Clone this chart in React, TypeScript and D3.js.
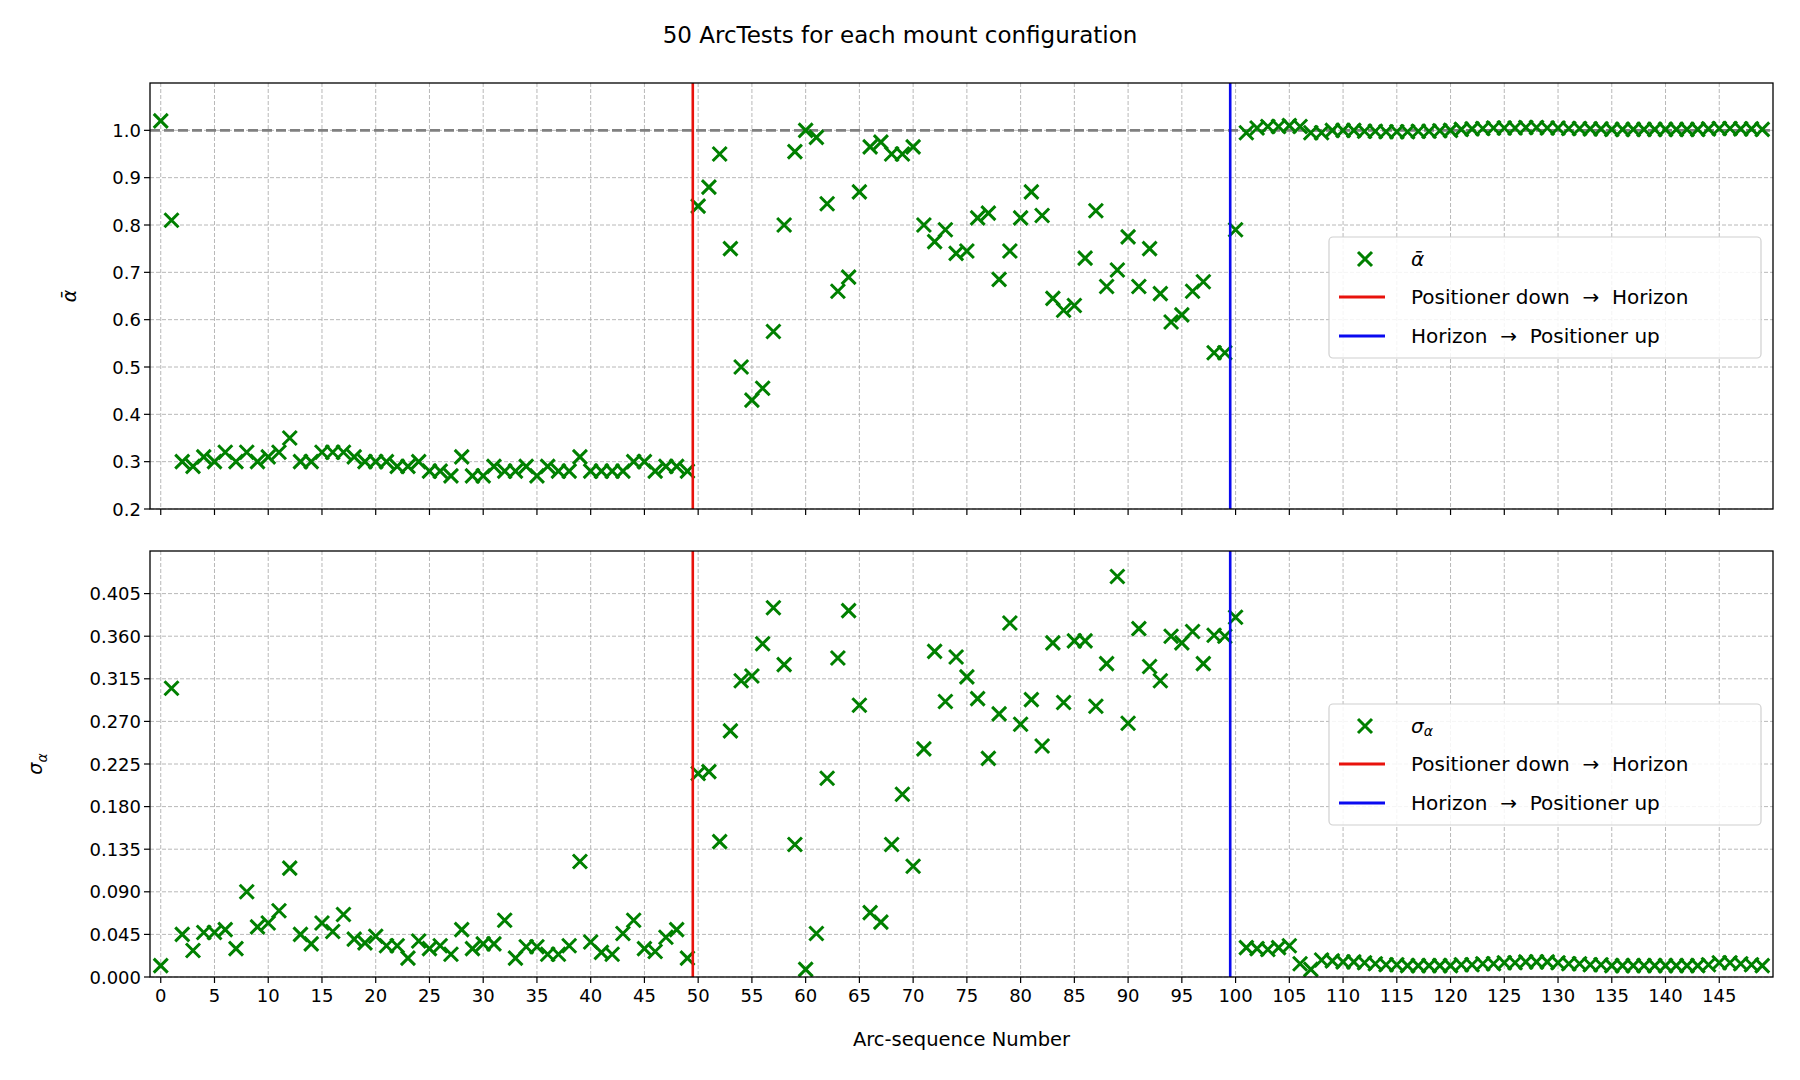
import * as d3 from "d3";

const alphaMean: number[] = [
  1.02, 0.81, 0.3, 0.29, 0.31, 0.3, 0.32, 0.3, 0.32, 0.3,
  0.31, 0.32, 0.35, 0.3, 0.3, 0.32, 0.32, 0.32, 0.31, 0.3,
  0.3, 0.3, 0.29, 0.29, 0.3, 0.28, 0.28, 0.27, 0.31, 0.27,
  0.27, 0.29, 0.28, 0.28, 0.29, 0.27, 0.29, 0.28, 0.28, 0.31,
  0.28, 0.28, 0.28, 0.28, 0.3, 0.3, 0.28, 0.29, 0.29, 0.28,
  0.84, 0.88, 0.95, 0.75, 0.5, 0.43, 0.455, 0.575, 0.8, 0.955,
  1.0, 0.985, 0.845, 0.66, 0.69, 0.87, 0.965, 0.975, 0.95, 0.95,
  0.965, 0.8, 0.765, 0.79, 0.74, 0.745, 0.815, 0.825, 0.685, 0.745,
  0.815, 0.87, 0.82, 0.645, 0.62, 0.63, 0.73, 0.83, 0.67, 0.705,
  0.775, 0.67, 0.75, 0.655, 0.595, 0.61, 0.66, 0.68, 0.53, 0.53,
  0.79, 0.995, 1.005, 1.008, 1.008, 1.01, 1.008, 0.995, 0.995, 1.0,
  1.0, 1.0, 0.998, 0.998, 0.997, 0.997, 0.997, 0.998, 0.998, 0.999,
  1.0, 1.002, 1.003, 1.004, 1.005, 1.005, 1.005, 1.006, 1.006, 1.005,
  1.005, 1.004, 1.004, 1.003, 1.003, 1.002, 1.002, 1.002, 1.002, 1.002,
  1.002, 1.002, 1.002, 1.002, 1.003, 1.004, 1.004, 1.003, 1.003, 1.002,
];

const alphaStd: number[] = [
  0.012, 0.305, 0.045, 0.028, 0.047, 0.047, 0.05, 0.03, 0.09, 0.053,
  0.057, 0.07, 0.115, 0.045, 0.035, 0.057, 0.048, 0.066, 0.04, 0.036,
  0.043, 0.033, 0.033, 0.02, 0.038, 0.03, 0.033, 0.024, 0.05, 0.03,
  0.035, 0.035, 0.06, 0.02, 0.032, 0.032, 0.024, 0.024, 0.033, 0.122,
  0.037, 0.026, 0.024, 0.046, 0.06, 0.03, 0.027, 0.042, 0.05, 0.02,
  0.215, 0.217, 0.143, 0.26, 0.313, 0.318, 0.352, 0.39, 0.33, 0.14,
  0.008, 0.046, 0.21, 0.337, 0.387, 0.287, 0.068, 0.058, 0.14, 0.193,
  0.117, 0.241, 0.344, 0.291, 0.338, 0.317, 0.294, 0.231, 0.278, 0.374,
  0.267, 0.293, 0.244, 0.353, 0.29, 0.355, 0.355, 0.286, 0.331, 0.423,
  0.268, 0.368, 0.328, 0.313, 0.36, 0.353, 0.365, 0.331, 0.361, 0.36,
  0.38, 0.031, 0.03, 0.029, 0.031, 0.033, 0.014, 0.008, 0.018, 0.017,
  0.016, 0.016, 0.015, 0.014, 0.013, 0.013, 0.012, 0.012, 0.012, 0.012,
  0.012, 0.013, 0.013, 0.014, 0.014, 0.015, 0.015, 0.016, 0.016, 0.016,
  0.015, 0.014, 0.014, 0.013, 0.013, 0.012, 0.012, 0.012, 0.012, 0.012,
  0.012, 0.012, 0.012, 0.012, 0.013, 0.015, 0.015, 0.014, 0.013, 0.012,
];

const xTicks = d3.range(0, 150, 5);
const topTicks = [0.2, 0.3, 0.4, 0.5, 0.6, 0.7, 0.8, 0.9, 1.0];
const bottomTicks = d3.range(0, 10).map((i) => i * 0.045);
const transitions = [
  { x: 49.5, color: "#e8120c", label: "Positioner down \u00a0\u2192\u00a0 Horizon" },
  { x: 99.5, color: "#0a0af0", label: "Horizon \u00a0\u2192\u00a0 Positioner up" },
];

const width = 1800;
const height = 1080;
const left = 150;
const right = 1773;
const font = "DejaVu Sans, sans-serif";
const green = "#008000";
const tickSize = 18;

const xScale = d3.scaleLinear().domain([-1, 150]).range([left, right]);

const Cross = ({ x, y }: { x: number; y: number }) => {
  const s = 7;
  return (
    <path
      d={`M${x - s},${y - s}L${x + s},${y + s}M${x - s},${y + s}L${x + s},${y - s}`}
      stroke={green}
      strokeWidth={3}
    />
  );
};

const Panel = ({
  values,
  domain,
  top,
  bottom,
  ticks,
  fmt,
  showXLabels,
  legendY,
  seriesLabel,
  ylabel,
  ylabelX,
  refLine,
}: {
  values: number[];
  domain: [number, number];
  top: number;
  bottom: number;
  ticks: number[];
  fmt: (v: number) => string;
  showXLabels: boolean;
  legendY: number;
  seriesLabel: JSX.Element;
  ylabel: JSX.Element;
  ylabelX: number;
  refLine?: number;
}) => {
  const y = d3.scaleLinear().domain(domain).range([bottom, top]);
  const lx = 1329;
  const lw = 432;
  const lh = 121;
  return (
    <g>
      <defs>
        <clipPath id={`clip-${top}`}>
          <rect x={left} y={top} width={right - left} height={bottom - top} />
        </clipPath>
      </defs>
      {/* grid */}
      {xTicks.map((t) => (
        <line key={`gx${t}`} x1={xScale(t)} x2={xScale(t)} y1={top} y2={bottom}
          stroke="#b0b0b0" strokeWidth={0.9} strokeDasharray="4,2" />
      ))}
      {ticks.map((t) => (
        <line key={`gy${t}`} x1={left} x2={right} y1={y(t)} y2={y(t)}
          stroke="#b0b0b0" strokeWidth={0.9} strokeDasharray="4,2" />
      ))}
      {refLine !== undefined && (
        <line x1={left} x2={right} y1={y(refLine)} y2={y(refLine)}
          stroke="#808080" strokeWidth={2.8} strokeDasharray="10,4" />
      )}
      <g clipPath={`url(#clip-${top})`}>
        {values.map((v, i) => (
          <Cross key={i} x={xScale(i)} y={y(v)} />
        ))}
      </g>
      {transitions.map((t) => (
        <line key={t.x} x1={xScale(t.x)} x2={xScale(t.x)} y1={top} y2={bottom}
          stroke={t.color} strokeWidth={2.6} />
      ))}
      <rect x={left} y={top} width={right - left} height={bottom - top}
        fill="none" stroke="#000" strokeWidth={1.3} />
      {/* x ticks */}
      {xTicks.map((t) => (
        <g key={`xt${t}`}>
          <line x1={xScale(t)} x2={xScale(t)} y1={bottom} y2={bottom + 6} stroke="#000" strokeWidth={1.2} />
          {showXLabels && (
            <text x={xScale(t)} y={bottom + 25} textAnchor="middle" fontSize={tickSize} fontFamily={font}>
              {t}
            </text>
          )}
        </g>
      ))}
      {ticks.map((t) => (
        <g key={`yt${t}`}>
          <line x1={left - 6} x2={left} y1={y(t)} y2={y(t)} stroke="#000" strokeWidth={1.2} />
          <text x={left - 9} y={y(t)} textAnchor="end" dominantBaseline="central" fontSize={tickSize} fontFamily={font}>
            {fmt(t)}
          </text>
        </g>
      ))}
      <text transform={`translate(${ylabelX},${(top + bottom) / 2}) rotate(-90)`} textAnchor="middle"
        fontSize={19} fontFamily={font}>
        {ylabel}
      </text>
      {/* legend */}
      <g>
        <rect x={lx} y={legendY} width={lw} height={lh} rx={4} fill="#fff" fillOpacity={0.85}
          stroke="#d0d0d0" strokeWidth={1.2} />
        <Cross x={lx + 36} y={legendY + 22} />
        <text x={lx + 82} y={legendY + 22} dominantBaseline="central" fontSize={20} fontFamily={font}>
          {seriesLabel}
        </text>
        {transitions.map((t, i) => (
          <g key={t.label}>
            <line x1={lx + 10} x2={lx + 56} y1={legendY + 60 + i * 39} y2={legendY + 60 + i * 39}
              stroke={t.color} strokeWidth={2.8} />
            <text x={lx + 82} y={legendY + 60 + i * 39} dominantBaseline="central" fontSize={20} fontFamily={font}>
              {t.label}
            </text>
          </g>
        ))}
      </g>
    </g>
  );
};

export default function App() {
  return (
    <svg width={width} height={height} style={{ position: "absolute", left: 0, top: 0, background: "#fff" }}>
      <rect width={width} height={height} fill="#fff" />
      <text x={900} y={43} textAnchor="middle" fontSize={23} fontFamily={font}>
        50 ArcTests for each mount configuration
      </text>
      <Panel
        values={alphaMean}
        domain={[0.2, 1.1]}
        top={83}
        bottom={509}
        ticks={topTicks}
        fmt={(v) => v.toFixed(1)}
        showXLabels={false}
        legendY={237}
        seriesLabel={<tspan fontStyle="italic">{"\u1FB1"}</tspan>}
        ylabel={<tspan fontStyle="italic">{"\u1FB1"}</tspan>}
        ylabelX={76}
        refLine={1.0}
      />
      <Panel
        values={alphaStd}
        domain={[0, 0.45]}
        top={551}
        bottom={977}
        ticks={bottomTicks}
        fmt={(v) => v.toFixed(3)}
        showXLabels={true}
        legendY={704}
        seriesLabel={
          <>
            <tspan fontStyle="italic">σ</tspan>
            <tspan fontStyle="italic" fontSize={14} dy={5}>α</tspan>
          </>
        }
        ylabel={
          <>
            <tspan fontStyle="italic">σ</tspan>
            <tspan fontStyle="italic" fontSize={14} dy={5}>α</tspan>
          </>
        }
        ylabelX={42}
      />
      <text x={(left + right) / 2} y={1046} textAnchor="middle" fontSize={19.5} fontFamily={font}>
        Arc-sequence Number
      </text>
    </svg>
  );
}
